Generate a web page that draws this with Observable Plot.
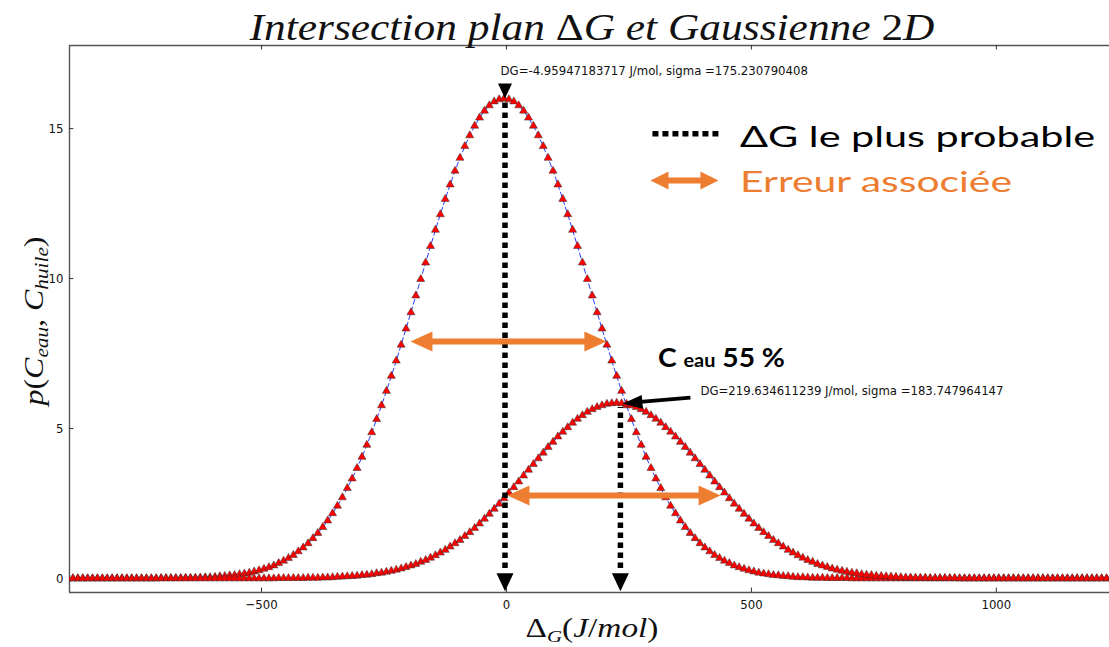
<!DOCTYPE html>
<html><head><meta charset="utf-8">
<script src="https://cdn.jsdelivr.net/npm/d3@7"></script>
<script src="https://cdn.jsdelivr.net/npm/@observablehq/plot@0.6"></script>
<style>
html,body{margin:0;padding:0;background:#fff;}
#chart{position:relative;width:1109px;height:647px;overflow:hidden;}
</style></head><body><div id="chart"></div>
<script>
// sampling positions (ΔG, J/mol)
const xs = [
-895,-885,-875,-865,-855,-845,-835,-825,-815,-805,
-795,-785,-775,-765,-755,-745,-735,-725,-715,-705,
-695,-685,-675,-665,-655,-645,-635,-625,-615,-605,
-595,-585,-575,-565,-555,-545,-535,-525,-515,-505,
-495,-485,-475,-465,-455,-445,-435,-425,-415,-405,
-395,-385,-375,-365,-355,-345,-335,-325,-315,-305,
-295,-285,-275,-265,-255,-245,-235,-225,-215,-205,
-195,-185,-175,-165,-155,-145,-135,-125,-115,-105,
-95,-85,-75,-65,-55,-45,-35,-25,-15,-5,
5,15,25,35,45,55,65,75,85,95,
105,115,125,135,145,155,165,175,185,195,
205,215,225,235,245,255,265,275,285,295,
305,315,325,335,345,355,365,375,385,395,
405,415,425,435,445,455,465,475,485,495,
505,515,525,535,545,555,565,575,585,595,
605,615,625,635,645,655,665,675,685,695,
705,715,725,735,745,755,765,775,785,795,
805,815,825,835,845,855,865,875,885,895,
905,915,925,935,945,955,965,975,985,995,
1005,1015,1025,1035,1045,1055,1065,1075,1085,1095,
1105,1115,1125,1135,1145,1155,1165,1175,1185,1195,
1205,1215,1225,1235
];
// series 1 : p(Ceau, Chuile), peak near -5 J/mol
const g1 = [
0,0,0,0,0,0,0,0,0,0,
0,0,0,0,0,0,0,0,0,
0.01,0.01,0.01,0.01,0.01,0.02,0.02,0.02,0.03,0.04,
0.04,0.05,0.07,0.08,0.10,0.11,0.14,0.16,0.19,0.23,
0.27,0.32,0.37,0.43,0.51,0.59,0.68,0.78,0.90,1.03,
1.17,1.34,1.51,1.71,1.93,2.17,2.42,2.70,3.01,3.33,
3.68,4.05,4.45,4.87,5.31,5.77,6.25,6.75,7.26,7.79,
8.33,8.87,9.43,9.98,10.53,11.08,11.62,12.14,12.65,13.13,
13.59,14.02,14.41,14.77,15.09,15.36,15.59,15.77,15.90,15.97,
16.00,
15.97,15.90,15.77,15.59,15.36,15.09,14.77,14.41,14.02,13.59,
13.13,12.65,12.14,11.62,11.08,10.53,9.98,9.43,8.87,8.33,
7.79,7.26,6.75,6.25,5.77,5.31,4.87,4.45,4.05,3.68,
3.33,3.01,2.70,2.42,2.17,1.93,1.71,1.51,1.34,1.17,
1.03,0.90,0.78,0.68,0.59,0.51,0.43,0.37,0.32,0.27,
0.23,0.19,0.16,0.14,0.11,0.10,0.08,0.07,0.05,0.04,
0.04,0.03,0.02,0.02,0.02,0.01,0.01,0.01,0.01,0.01,
0,0,0,0,0,0,0,0,0,0,
0,0,0,0,0,0,0,0,0,0,
0,0,0,0,0,0,0,0,0,0,
0,0,0,0,0,0,0,0,0,0,
0,0,0,0,0,0,0,0,0,0,
0,0,0,0
];
// series 2 : Ceau 55 %, peak near 225 J/mol
const g2 = [
0,0,0,0,0,0,0,0,0,0,
0,0,0,0,0,0,0,0,0,0,
0,0,0,0,0,0,0,0,0,0,
0,0,0,0,0,0,0,0,0,0,
0,0,0,
0.01,0.01,0.01,0.01,0.01,0.01,0.02,0.02,0.02,0.03,
0.03,0.04,0.05,0.06,0.07,0.08,0.09,0.11,0.12,0.14,
0.17,0.19,0.22,0.25,0.29,0.33,0.38,0.43,0.48,0.55,
0.61,0.69,0.77,0.86,0.95,1.06,1.17,1.28,1.41,1.54,
1.68,1.83,1.99,2.15,2.32,2.49,2.67,2.86,3.04,3.23,
3.43,3.62,3.81,4.00,4.19,4.38,4.55,4.73,4.89,5.04,
5.19,5.32,5.44,5.55,5.64,5.71,5.77,5.82,5.84,
5.85,
5.84,5.82,5.77,5.71,5.64,5.55,5.44,5.32,5.19,
5.04,4.89,4.73,4.55,4.38,4.19,4.00,3.81,3.62,3.43,
3.23,3.04,2.86,2.67,2.49,2.32,2.15,1.99,1.83,1.68,
1.54,1.41,1.28,1.17,1.06,0.95,0.86,0.77,0.69,0.61,
0.55,0.48,0.43,0.38,0.33,0.29,0.25,0.22,0.19,0.17,
0.14,0.12,0.11,0.09,0.08,0.07,0.06,0.05,0.04,0.03,
0.03,0.02,0.02,0.02,0.01,0.01,0.01,0.01,0.01,0.01,
0,0,0,0,0,0,0,0,0,0,
0,0,0,0,0,0,0,0,0,0,
0,0,0,0,0,0,0,0,0,0,
0,0
];
const xTicks = [-500, 0, 500, 1000];
const yTicks = [0, 5, 10, 15];
const dgLabels = ["DG=-4.95947183717 J/mol, sigma =175.230790408", "DG=219.634611239 J/mol, sigma =183.747964147"];
const dgValues = [-3, 232.6];      // positions of the most probable ΔG markers
const dgPeaks = [15.95, 5.77];
const legendLabels = ["ΔG le plus probable", "Erreur associée"];

const X_DOMAIN = [-892, 1231], Y_DOMAIN = [-0.467, 17.77];
const ORANGE = "#ED7D31";
const rows1 = xs.map((x, i) => ({x, y: g1[i]}));
const rows2 = xs.map((x, i) => ({x, y: g2[i]}));

function head(len, wid, angleDeg) {
  const a = angleDeg * Math.PI / 180, c = Math.cos(a), s = Math.sin(a);
  return {draw(ctx) {
    const pts = [[0, 0], [-len, -wid / 2], [-len, wid / 2]];
    pts.forEach(([px, py], i) => {
      const X = px * c - py * s, Y = px * s + py * c;
      if (i) ctx.lineTo(X, Y); else ctx.moveTo(X, Y);
    });
    ctx.closePath();
  }};
}
const tickFont = "DejaVu Sans Condensed, DejaVu Sans, sans-serif";

const plot = Plot.plot({
  width: 1109, height: 647,
  marginLeft: 69, marginRight: 0, marginTop: 45, marginBottom: 55,
  x: {domain: X_DOMAIN},
  y: {domain: Y_DOMAIN},
  style: {background: "white", overflow: "visible"},
  marks: [
    Plot.ruleY([Y_DOMAIN[0], Y_DOMAIN[1]], {stroke: "#555", strokeWidth: 1.4}),
    Plot.ruleX([X_DOMAIN[0]], {stroke: "#555", strokeWidth: 1.4}),
    Plot.ruleX(xTicks, {y1: Y_DOMAIN[0], y2: Y_DOMAIN[0] + 0.15, stroke: "#333"}),
    Plot.ruleX(xTicks, {y1: Y_DOMAIN[1] - 0.15, y2: Y_DOMAIN[1], stroke: "#333"}),
    Plot.ruleY(yTicks, {x1: X_DOMAIN[0], x2: X_DOMAIN[0] + 9, stroke: "#333"}),
    Plot.axisX(xTicks, {anchor: "bottom", tickSize: 0, tickPadding: 7, tickFormat: d3.format("d"), fontSize: 13, fontFamily: tickFont, fill: "#111", label: null}),
    Plot.axisY(yTicks, {anchor: "left", tickSize: 0, tickPadding: 6, fontSize: 13, fontFamily: tickFont, fill: "#111", label: null}),
    // data: fitted dashed curves under the triangle markers
    Plot.line(rows1, {x: "x", y: "y", stroke: "#2a3cff", strokeWidth: 1, strokeDasharray: "5,3", clip: true}),
    Plot.line(rows2, {x: "x", y: "y", stroke: "#2a3cff", strokeWidth: 1, strokeDasharray: "5,3", clip: true}),
    Plot.dot(rows1, {x: "x", y: "y", symbol: "triangle", r: 3, fill: "#ff0000", stroke: "#333", strokeWidth: 0.5, clip: true}),
    Plot.dot(rows2, {x: "x", y: "y", symbol: "triangle", r: 3, fill: "#ff0000", stroke: "#333", strokeWidth: 0.5, clip: true}),
    // most probable ΔG dotted lines with arrowheads
    Plot.ruleX([0, 1], {x: i => dgValues[i], y1: 0.33, y2: i => dgPeaks[i] - 0.07, stroke: "black", strokeWidth: 5.5, strokeDasharray: "5.5,4.5"}),
    Plot.dot([0, 1], {x: i => dgValues[i], y: Y_DOMAIN[0] + 0.04, symbol: head(18, 17, 90), r: 5, fill: "black"}),
    Plot.dot([0], {x: dgValues[0], y: 16.0, symbol: head(15, 14, 90), r: 5, fill: "black"}),
    // annotation arrow to the second peak
    Plot.link([0], {x1: 375.5, y1: 6.03, x2: 267, y2: 5.88, stroke: "black", strokeWidth: 4}),
    Plot.dot([0], {x: 236.7, y: 5.83, symbol: head(20, 14, 175), r: 5, fill: "black"}),
    // DG annotation labels
    Plot.text([0], {x: -12, y: 16.93, text: () => dgLabels[0], textAnchor: "start", fontSize: 13, fontFamily: tickFont, fill: "#111"}),
    Plot.text([0], {x: 396, y: 6.27, text: () => dgLabels[1], textAnchor: "start", fontSize: 13, fontFamily: tickFont, fill: "#111"}),
    // error double arrows
    Plot.link([0], {x1: -176, x2: 184, y1: 7.9, y2: 7.9, stroke: ORANGE, strokeWidth: 6}),
    Plot.dot([0], {x: -196, y: 7.9, symbol: head(22, 20, 180), r: 5, fill: ORANGE}),
    Plot.dot([0], {x: 204, y: 7.9, symbol: head(22, 20, 0), r: 5, fill: ORANGE}),
    Plot.link([0], {x1: 22, x2: 417, y1: 2.77, y2: 2.77, stroke: ORANGE, strokeWidth: 6}),
    Plot.dot([0], {x: 2, y: 2.77, symbol: head(22, 20, 180), r: 5, fill: ORANGE}),
    Plot.dot([0], {x: 437, y: 2.77, symbol: head(22, 20, 0), r: 5, fill: ORANGE}),
    // legend glyphs
    Plot.link([0], {x1: 298, x2: 433, y1: 14.83, y2: 14.83, stroke: "black", strokeWidth: 5.5, strokeDasharray: "6,4"}),
    Plot.link([0], {x1: 312, x2: 415, y1: 13.27, y2: 13.27, stroke: ORANGE, strokeWidth: 6}),
    Plot.dot([0], {x: 294, y: 13.27, symbol: head(18, 18, 180), r: 5, fill: ORANGE}),
    Plot.dot([0], {x: 432.7, y: 13.27, symbol: head(18, 18, 0), r: 5, fill: ORANGE})
  ]
});
document.getElementById("chart").appendChild(plot);

const svg = d3.select(plot);
function rich(el, parts) {
  parts.forEach(p => {
    if (typeof p === "string") p = {t: p};
    const t = el.append("tspan").text(p.t);
    if (p.style) t.attr("font-style", p.style);
    if (p.size) t.attr("font-size", p.size);
    if (p.dy) t.attr("dy", p.dy);
    if (p.weight) t.attr("font-weight", p.weight);
  });
  return el;
}
// title
rich(svg.append("text").attr("x", 592).attr("y", 40).attr("text-anchor", "middle")
  .attr("font-family", "Liberation Serif, serif").attr("font-style", "italic").attr("font-size", 37)
  .attr("textLength", 685).attr("lengthAdjust", "spacingAndGlyphs").attr("fill", "#111"),
  ["Intersection plan ", {t: "Δ", style: "normal"}, "G et Gaussienne ", {t: "2", style: "normal"}, "D"]);
// x label
rich(svg.append("text").attr("x", 592).attr("y", 637).attr("text-anchor", "middle")
  .attr("font-family", "Liberation Serif, serif").attr("font-style", "italic").attr("font-size", 27)
  .attr("textLength", 133).attr("lengthAdjust", "spacingAndGlyphs").attr("fill", "#111"),
  [{t: "Δ", style: "normal"}, {t: "G", size: 17, dy: 5}, {t: "(", style: "normal", dy: -5}, "J", {t: "/", style: "normal"}, "mol", {t: ")", style: "normal"}]);
// y label
rich(svg.append("text").attr("transform", "translate(43,321) rotate(-90)").attr("text-anchor", "middle")
  .attr("font-family", "Liberation Serif, serif").attr("font-style", "italic").attr("font-size", 27)
  .attr("textLength", 169).attr("lengthAdjust", "spacingAndGlyphs").attr("fill", "#111"),
  ["p", {t: "(", style: "normal"}, "C", {t: "eau", size: 18, dy: 5}, {t: ", ", style: "normal", dy: -5}, "C", {t: "huile", size: 18, dy: 5}, {t: ")", style: "normal", dy: -5}]);
// legend texts
svg.append("text").attr("x", 740).attr("y", 147).attr("text-anchor", "start").attr("font-family", "Lato, Open Sans, sans-serif")
  .attr("font-size", 29).attr("textLength", 355).attr("lengthAdjust", "spacingAndGlyphs").attr("fill", "#000").text(legendLabels[0]);
svg.append("text").attr("x", 740).attr("y", 192).attr("text-anchor", "start").attr("font-family", "Lato, Open Sans, sans-serif")
  .attr("font-size", 29).attr("textLength", 272).attr("lengthAdjust", "spacingAndGlyphs").attr("fill", ORANGE).text(legendLabels[1]);
// C eau 55 %
rich(svg.append("text").attr("x", 658).attr("y", 367).attr("text-anchor", "start").attr("font-family", "Lato, Open Sans, sans-serif")
  .attr("font-weight", "bold").attr("font-size", 27).attr("fill", "#000")
  .attr("textLength", 127).attr("lengthAdjust", "spacingAndGlyphs"),
  ["C ", {t: "eau", size: 19}, {t: " 55 %"}]);
</script></body></html>
